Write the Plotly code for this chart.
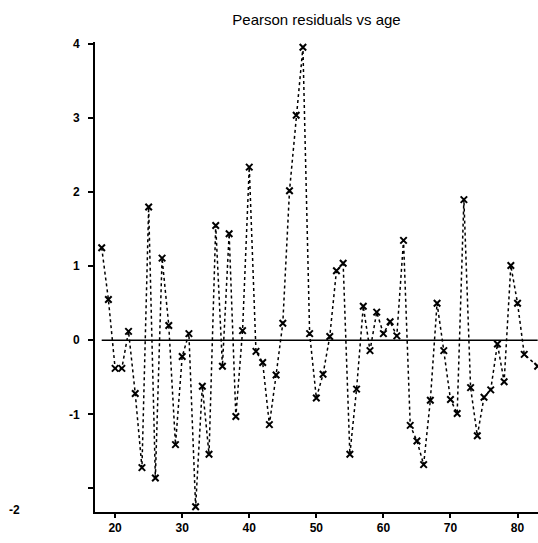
import plotly.graph_objects as go

# Pearson residuals by age (age 82 has no observation)
ages = list(range(18, 82)) + [83]
residuals = [
    1.25, 0.55, -0.38, -0.38, 0.12, -0.72, -1.72, 1.80, -1.86, 1.11,   # 18-27
    0.20, -1.41, -0.22, 0.09, -2.25, -0.62, -1.54, 1.55, -0.35, 1.44,  # 28-37
    -1.03, 0.13, 2.34, -0.15, -0.30, -1.14, -0.47, 0.23, 2.02, 3.04,   # 38-47
    3.96, 0.09, -0.78, -0.46, 0.05, 0.94, 1.04, -1.54, -0.66, 0.46,    # 48-57
    -0.14, 0.38, 0.09, 0.25, 0.06, 1.35, -1.15, -1.36, -1.68, -0.81,   # 58-67
    0.50, -0.14, -0.80, -0.99, 1.90, -0.64, -1.29, -0.77, -0.67, -0.05,  # 68-77
    -0.56, 1.01, 0.50, -0.19, -0.35,                                   # 78-81, 83
]
y_ticks = [-2, -1, 0, 1, 2, 3, 4]
x_ticks = [20, 30, 40, 50, 60, 70, 80]

FONT = "Liberation Sans, Arial, sans-serif"

fig = go.Figure()

# zero reference line across the observed age span
fig.add_trace(go.Scatter(
    x=[min(ages), max(ages)], y=[0, 0], mode="lines",
    line=dict(color="black", width=1.6), hoverinfo="skip", showlegend=False,
))

# residuals joined by a dotted line
fig.add_trace(go.Scatter(
    x=ages, y=residuals, mode="lines+markers",
    line=dict(color="black", width=1.5, dash="dot"),
    marker=dict(symbol="x-thin-open", size=6.5, color="black",
                line=dict(color="black", width=2)),
    cliponaxis=False, showlegend=False,
))

fig.update_layout(
    width=538, height=543,
    margin=dict(l=95, r=0, t=42, b=31),
    paper_bgcolor="white", plot_bgcolor="white",
    font=dict(family=FONT, color="black"),
    title=dict(text="Pearson residuals vs age", x=0.5, xref="paper",
               xanchor="center", y=1 - 20 / 543, yanchor="middle",
               font=dict(family=FONT, size=15, color="black")),
    xaxis=dict(
        range=[17.0, 83.05], tickvals=x_ticks, ticks="outside", ticklen=4,
        tickwidth=1.5, tickcolor="black", showline=True, linecolor="black",
        linewidth=2, showgrid=False, zeroline=False,
        tickfont=dict(family=FONT, size=12, color="black", weight="bold"),
    ),
    yaxis=dict(
        range=[-2.32, 4.03], tickvals=y_ticks,
        ticktext=["" if v == -2 else str(v) for v in y_ticks],
        ticks="outside", ticklen=5, tickwidth=1.5, tickcolor="black",
        showline=True, linecolor="black", linewidth=2, showgrid=False,
        zeroline=False, ticklabelstandoff=6,
        tickfont=dict(family=FONT, size=12, color="black", weight="bold"),
    ),
    annotations=[dict(
        text="-2", xref="paper", yref="paper", x=(14 - 95) / 443,
        y=(512 - 510) / 470, xanchor="center", yanchor="middle",
        showarrow=False, font=dict(family=FONT, size=12, color="black",
                                   weight="bold"),
    )],
)

fig.write_html("out.html")
